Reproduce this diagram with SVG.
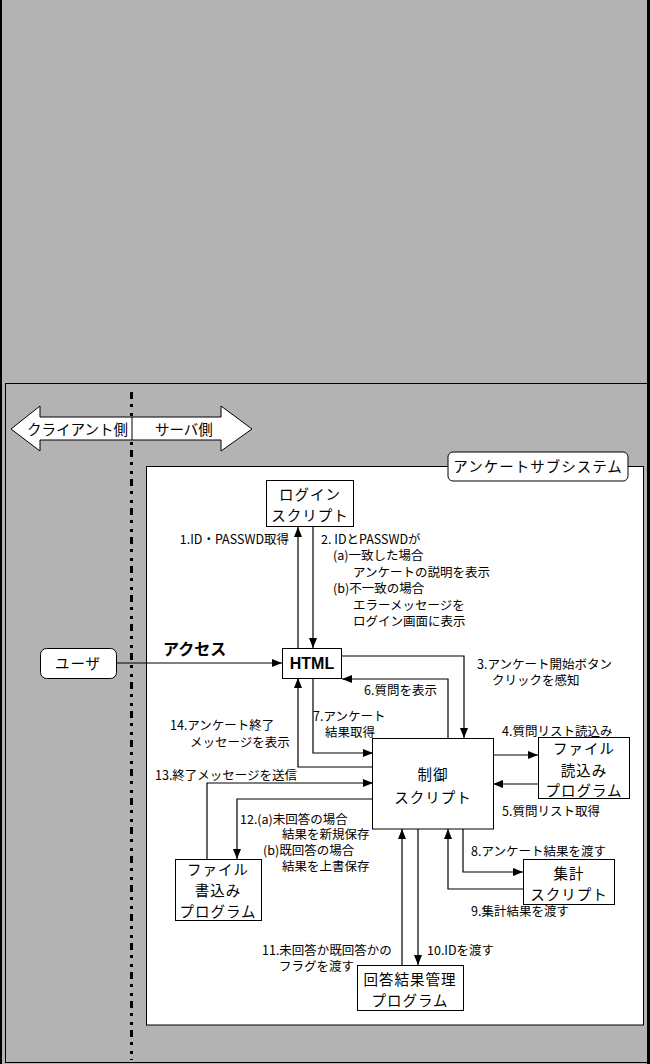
<svg xmlns="http://www.w3.org/2000/svg" width="650" height="1064" viewBox="0 0 650 1064">
<style>
.bg{fill:#b3b3b3}
.box{fill:#fff;stroke:#000;stroke-width:1}
.ln{fill:none;stroke:#000;stroke-width:1.2}
.nt{font-family:"Noto Sans CJK JP","Noto Sans",sans-serif;font-size:14.5px;letter-spacing:1px;fill:#000;text-anchor:middle}
.lb{font-family:"Noto Sans CJK JP","Noto Sans",sans-serif;font-size:12.5px;fill:#000}
</style>
<defs>
<marker id="ah" markerWidth="10" markerHeight="8" refX="10" refY="4" orient="auto" markerUnits="userSpaceOnUse">
<path d="M0,0 L10,4 L0,8 z" fill="#000"/>
</marker>
</defs>
<rect class="bg" x="0" y="0" width="650" height="1064"/>
<rect x="0" y="0" width="2" height="1064" fill="#000"/>
<rect x="647" y="0" width="3" height="1064" fill="#000"/>
<rect x="5.5" y="383.5" width="642" height="679" fill="none" stroke="#000" stroke-width="1"/>

<line id="divider" x1="131.5" y1="392" x2="131.5" y2="1060" stroke="#000" stroke-width="3" stroke-dasharray="7,5,3,6,3,5"/>
<g id="sides">
<path d="M11,429 L40,406 L40,417 L221,417 L221,406 L252,429 L221,451 L221,440 L40,440 L40,451 Z" fill="#fff" stroke="#000" stroke-width="1"/>
<line x1="132" y1="417" x2="132" y2="440" stroke="#000" stroke-width="1"/>
<text class="lb" x="27" y="435" style="font-size:14.5px">クライアント側</text>
<text class="lb" x="155" y="435" style="font-size:14.5px">サーバ側</text>
</g>

<g id="subsystem">
<rect class="box" x="146.5" y="466.5" width="497" height="558.5"/>
<rect class="box" x="448" y="452" width="180" height="29" rx="5"/>
<text class="nt" x="538" y="472">アンケートサブシステム</text>
</g>

<g id="connectors">
<path class="ln" d="M298,648 L298,527" marker-end="url(#ah)"/>
<path class="ln" d="M313,527 L313,648" marker-end="url(#ah)"/>
<path class="ln" d="M117,663 L282,663" marker-end="url(#ah)"/>
<path class="ln" d="M342,656 L464,656 L464,738" marker-end="url(#ah)"/>
<path class="ln" d="M448,738 L448,679 L342,679" marker-end="url(#ah)"/>
<path class="ln" d="M313,678 L313,753 L373,753" marker-end="url(#ah)"/>
<path class="ln" d="M373,767 L298,767 L298,678" marker-end="url(#ah)"/>
<path class="ln" d="M493,755 L538,755" marker-end="url(#ah)"/>
<path class="ln" d="M538,784 L493,784" marker-end="url(#ah)"/>
<path class="ln" d="M207,859 L207,783 L373,783" marker-end="url(#ah)"/>
<path class="ln" d="M373,799 L237,799 L237,859" marker-end="url(#ah)"/>
<path class="ln" d="M463,829 L463,872 L523,872" marker-end="url(#ah)"/>
<path class="ln" d="M523,889 L448,889 L448,829" marker-end="url(#ah)"/>
<path class="ln" d="M418,829 L418,965" marker-end="url(#ah)"/>
<path class="ln" d="M402,965 L402,829" marker-end="url(#ah)"/>
</g>

<g id="labels">
<text class="lb" x="289" y="544" text-anchor="end">1.ID・PASSWD取得</text>
<text class="lb" x="321" y="544">2. IDとPASSWDが</text>
<text class="lb" x="333" y="560">(a)一致した場合</text>
<text class="lb" x="353" y="577">アンケートの説明を表示</text>
<text class="lb" x="333" y="593">(b)不一致の場合</text>
<text class="lb" x="353" y="610">エラーメッセージを</text>
<text class="lb" x="353" y="626">ログイン画面に表示</text>
<text class="lb" x="163" y="655" style="font-size:16px;font-weight:bold">アクセス</text>
<text class="lb" x="477" y="669">3.アンケート開始ボタン</text>
<text class="lb" x="492" y="685">クリックを感知</text>
<text class="lb" x="364" y="695">6.質問を表示</text>
<text class="lb" x="313" y="721">7.アンケート</text>
<text class="lb" x="325" y="737">結果取得</text>
<text class="lb" x="170" y="730">14.アンケート終了</text>
<text class="lb" x="190" y="747">メッセージを表示</text>
<text class="lb" x="502" y="736">4.質問リスト読込み</text>
<text class="lb" x="502" y="816">5.質問リスト取得</text>
<text class="lb" x="155" y="780">13.終了メッセージを送信</text>
<text class="lb" x="240" y="824">12.(a)未回答の場合</text>
<text class="lb" x="282" y="839">結果を新規保存</text>
<text class="lb" x="263" y="855">(b)既回答の場合</text>
<text class="lb" x="282" y="871">結果を上書保存</text>
<text class="lb" x="471" y="856">8.アンケート結果を渡す</text>
<text class="lb" x="471" y="916">9.集計結果を渡す</text>
<text class="lb" x="427" y="955">10.IDを渡す</text>
<text class="lb" x="262" y="955">11.未回答か既回答かの</text>
<text class="lb" x="279" y="971">フラグを渡す</text>
</g>

<g id="login">
<rect class="box" x="266.5" y="480.5" width="87" height="46"/>
<text class="nt" x="310" y="500">ログイン</text>
<text class="nt" x="310" y="521">スクリプト</text>
</g>
<g id="html">
<rect class="box" x="282.5" y="648.5" width="59" height="30"/>
<text class="nt" x="312" y="669" style="font-family:'Liberation Sans',sans-serif;font-weight:bold;font-size:16px;letter-spacing:0">HTML</text>
</g>
<g id="user">
<rect class="box" x="40.5" y="648.5" width="76" height="30" rx="6"/>
<text class="nt" x="78" y="669">ユーザ</text>
</g>
<g id="control">
<rect class="box" x="372.5" y="738.5" width="121" height="90.5"/>
<text class="nt" x="433" y="780">制御</text>
<text class="nt" x="433" y="803">スクリプト</text>
</g>
<g id="reader">
<rect class="box" x="538.5" y="737.5" width="91" height="61"/>
<text class="nt" x="584" y="754">ファイル</text>
<text class="nt" x="584" y="776">読込み</text>
<text class="nt" x="584" y="796">プログラム</text>
</g>
<g id="aggregate">
<rect class="box" x="523.5" y="859.5" width="91" height="45"/>
<text class="nt" x="569" y="879">集計</text>
<text class="nt" x="569" y="900">スクリプト</text>
</g>
<g id="writer">
<rect class="box" x="175.5" y="859.5" width="86" height="61"/>
<text class="nt" x="218" y="875">ファイル</text>
<text class="nt" x="218" y="896">書込み</text>
<text class="nt" x="218" y="917">プログラム</text>
</g>
<g id="answers">
<rect class="box" x="357.5" y="965.5" width="106" height="45"/>
<text class="nt" x="410" y="985">回答結果管理</text>
<text class="nt" x="410" y="1006">プログラム</text>
</g>
</svg>
